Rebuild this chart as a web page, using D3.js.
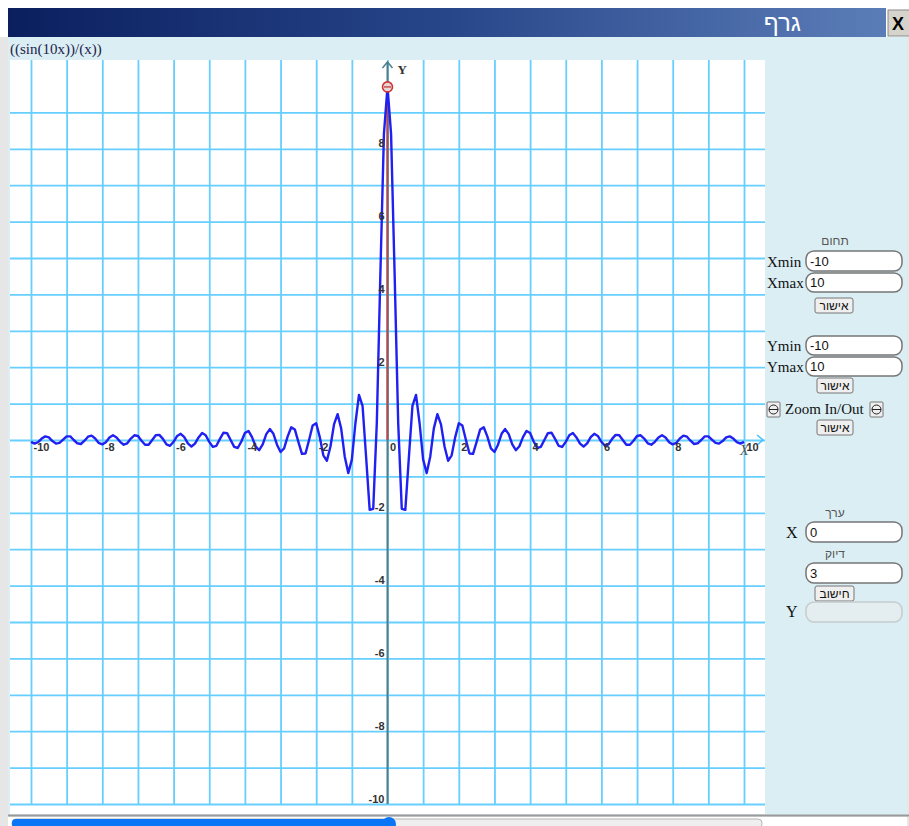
<!DOCTYPE html>
<html>
<head>
<meta charset="utf-8">
<script src="https://cdn.jsdelivr.net/npm/d3@7"></script>
<style>
  body { margin: 0; background: #fff; }
  svg { display: block; }
</style>
</head>
<body>
<svg id="chart" width="909" height="826"></svg>
<script>
// tick labels and grid
var xTickLabels = [-10, -8, -6, -4, -2, 0, 2, 4, 6, 8, 10];
var yTickLabels = [-10, -8, -6, -4, -2, 2, 4, 6, 8];
var xGrid = [-10,-9,-8,-7,-6,-5,-4,-3,-2,-1,0,1,2,3,4,5,6,7,8,9,10];
var yGrid = [-10,-9,-8,-7,-6,-5,-4,-3,-2,-1,0,1,2,3,4,5,6,7,8,9];

// curve samples, x from -10 to 10 step 0.1
var curveY = [
 -0.05,-0.10,-0.06,0.04,0.10,0.07,-0.03,-0.10,-0.08,0.01,
 0.10,0.10,0.00,-0.09,-0.11,-0.02,0.09,0.12,0.04,-0.08,
 -0.12,-0.06,0.07,0.13,0.07,-0.05,-0.13,-0.09,0.04,0.13,
 0.11,-0.02,-0.13,-0.13,0.00,0.13,0.14,0.03,-0.12,-0.16,
 -0.05,0.11,0.17,0.08,-0.09,-0.18,-0.10,0.07,0.19,0.13,
 -0.05,-0.19,-0.16,0.03,0.20,0.19,0.00,-0.19,-0.22,-0.04,
 0.19,0.25,0.08,-0.17,-0.28,-0.12,0.16,0.30,0.17,-0.13,
 -0.33,-0.23,0.10,0.35,0.29,-0.05,-0.38,-0.37,0.00,0.40,
 0.46,0.08,-0.42,-0.57,-0.18,0.43,0.71,0.32,-0.45,-0.91,
 -0.54,0.46,1.24,0.94,-0.47,-1.92,-1.89,0.47,4.55,8.41,
 9.70,
 8.41,4.55,0.47,-1.89,-1.92,-0.47,0.94,1.24,0.46,-0.54,
 -0.91,-0.45,0.32,0.71,0.43,-0.18,-0.57,-0.42,0.08,0.46,
 0.40,0.00,-0.37,-0.38,-0.05,0.29,0.35,0.10,-0.23,-0.33,
 -0.13,0.17,0.30,0.16,-0.12,-0.28,-0.17,0.08,0.25,0.19,
 -0.04,-0.22,-0.19,0.00,0.19,0.20,0.03,-0.16,-0.19,-0.05,
 0.13,0.19,0.07,-0.10,-0.18,-0.09,0.08,0.17,0.11,-0.05,
 -0.16,-0.12,0.03,0.14,0.13,0.00,-0.13,-0.13,-0.02,0.11,
 0.13,0.04,-0.09,-0.13,-0.05,0.07,0.13,0.07,-0.06,-0.12,
 -0.08,0.04,0.12,0.09,-0.02,-0.11,-0.09,0.00,0.10,0.10,
 0.01,-0.08,-0.10,-0.03,0.07,0.10,0.04,-0.06,-0.10,-0.05
];
var curveX = d3.range(-100, 101).map(function(k){ return k / 10; });

var markX = 0, markY = 9.70;

var formula = "((sin(10x))/(x))";
var title = "גרף";

var svg = d3.select("#chart");
var serif = "'Liberation Serif', 'Times New Roman', serif";
var sans = "'Liberation Sans', Arial, sans-serif";

// window frame
svg.append("rect").attr("x", 0).attr("y", 0).attr("width", 909).attr("height", 826).attr("fill", "#ffffff");
svg.append("rect").attr("x", 0).attr("y", 37).attr("width", 909).attr("height", 789).attr("fill", "#e6e6e6");
svg.append("rect").attr("x", 8).attr("y", 37).attr("width", 899).attr("height", 778).attr("fill", "#dbeef4");

var grad = svg.append("defs").append("linearGradient").attr("id", "bar");
grad.append("stop").attr("offset", "0%").attr("stop-color", "#0b1f5e");
grad.append("stop").attr("offset", "50%").attr("stop-color", "#27468a");
grad.append("stop").attr("offset", "100%").attr("stop-color", "#5b7db7");
svg.append("rect").attr("x", 8).attr("y", 8).attr("width", 878).attr("height", 29).attr("fill", "url(#bar)");
svg.append("text").attr("x", 801).attr("y", 31).attr("text-anchor", "end")
	.attr("fill", "#fff").style("font-family", sans).style("font-size", "24px").text(title);

// close button
svg.append("rect").attr("x", 888).attr("y", 10).attr("width", 22).attr("height", 26)
	.attr("fill", "#d6d3cc").attr("stroke", "#8a8a8a");
svg.append("text").attr("x", 898).attr("y", 30).attr("text-anchor", "middle")
	.style("font-family", sans).style("font-size", "18px").style("font-weight", "bold").text("X");

svg.append("text").attr("x", 10).attr("y", 54).attr("fill", "#23234a")
	.style("font-family", serif).style("font-size", "15px").text(formula);

// plot area
var pLeft = 10, pRight = 765, pTop = 60, pBottom = 814;
svg.append("rect").attr("x", pLeft).attr("y", pTop).attr("width", pRight - pLeft).attr("height", pBottom - pTop).attr("fill", "#fff");

var xScale = d3.scaleLinear().domain([-10, 10]).range([31, 744]);
var yScale = d3.scaleLinear().domain([-10, 10]).range([804, 76]);

var plot = svg.append("g");

// grid
var gx = plot.append("g").attr("transform", "translate(0," + yScale(-10) + ")")
	.call(d3.axisBottom(xScale).tickValues(xGrid).tickSize(-(yScale(-10) - pTop)).tickFormat(""));
var gy = plot.append("g").attr("transform", "translate(" + pLeft + ",0)")
	.call(d3.axisLeft(yScale).tickValues(yGrid).tickSize(-(pRight - pLeft)).tickFormat(""));
[gx, gy].forEach(function(g){
	g.select(".domain").remove();
	g.selectAll("line").attr("stroke", "#66cfff").attr("stroke-width", 1.8);
});

// x axis arrow
var x0 = xScale(0), y0 = yScale(0);
plot.append("path").attr("d", "M" + (pRight - 8) + "," + (y0 - 5) + "L" + (pRight - 2) + "," + y0 + "L" + (pRight - 8) + "," + (y0 + 5))
	.attr("fill", "none").attr("stroke", "#45c2ff").attr("stroke-width", 1.5);

// y axis
plot.append("line").attr("x1", x0).attr("x2", x0).attr("y1", yScale(-10)).attr("y2", 62)
	.attr("stroke", "#4d7f8c").attr("stroke-width", 2);
plot.append("path").attr("d", "M" + (x0 - 5) + ",68L" + x0 + ",62L" + (x0 + 5) + ",68")
	.attr("fill", "none").attr("stroke", "#4d7f8c").attr("stroke-width", 1.5);
plot.append("text").attr("x", x0 + 10).attr("y", 74).attr("fill", "#333")
	.style("font-family", serif).style("font-size", "13px").style("font-weight", "bold").text("Y");
plot.append("text").attr("x", 740).attr("y", 455).attr("fill", "#555")
	.style("font-family", serif).style("font-size", "14px").style("font-style", "italic").text("X");

// value marker line (under the curve)
plot.append("line").attr("x1", xScale(markX)).attr("x2", xScale(markX)).attr("y1", y0).attr("y2", yScale(markY))
	.attr("stroke", "#b84848").attr("stroke-width", 2);

// curve
var line = d3.line()
	.x(function(d, i){ return xScale(curveX[i]); })
	.y(function(d){ return yScale(d); });
plot.append("path").datum(curveY).attr("d", line)
	.attr("fill", "none").attr("stroke", "#2020f2").attr("stroke-width", 2.4).attr("stroke-linejoin", "round");

// value marker point
plot.append("circle").attr("cx", xScale(markX)).attr("cy", yScale(markY)).attr("r", 5)
	.attr("fill", "#e9d6d6").attr("stroke", "#d03535").attr("stroke-width", 1.6);
plot.append("line").attr("x1", xScale(markX) - 3.5).attr("x2", xScale(markX) + 3.5)
	.attr("y1", yScale(markY)).attr("y2", yScale(markY)).attr("stroke", "#c03030").attr("stroke-width", 1.2);

// tick labels
var fmt = function(d){ return String(d); };
var ax = plot.append("g").attr("transform", "translate(0," + y0 + ")")
	.call(d3.axisBottom(xScale).tickValues(xTickLabels).tickSize(0).tickFormat(fmt));
ax.select(".domain").remove();
ax.selectAll("text").attr("x", 2).attr("y", 11).attr("dy", null).attr("text-anchor", "start");

var ay = plot.append("g").attr("transform", "translate(" + x0 + ",0)")
	.call(d3.axisLeft(yScale).tickValues(yTickLabels).tickSize(0).tickFormat(fmt));
ay.select(".domain").remove();
ay.selectAll("text").attr("x", -3).attr("y", -2).attr("dy", null).attr("text-anchor", "end");

[ax, ay].forEach(function(g){
	g.selectAll("text").attr("fill", "#333")
		.style("font-family", sans).style("font-size", "11px").style("font-weight", "bold");
});

// bottom slider
svg.append("line").attr("x1", 8).attr("x2", 909).attr("y1", 815.5).attr("y2", 815.5).attr("stroke", "#9a9a9a").attr("stroke-width", 2);
svg.append("rect").attr("x", 8).attr("y", 817).attr("width", 899).attr("height", 9).attr("fill", "#fff");
svg.append("rect").attr("x", 12).attr("y", 819).attr("width", 750).attr("height", 9).attr("rx", 4)
	.attr("fill", "#efefef").attr("stroke", "#b5b5b5");
svg.append("rect").attr("x", 12).attr("y", 819).attr("width", 380).attr("height", 9).attr("rx", 4).attr("fill", "#0a75f5");
svg.append("circle").attr("cx", 389).attr("cy", 824).attr("r", 7).attr("fill", "#0a75f5");

// side panel
var panel = svg.append("g");
function label(x, y, t, opts){
	opts = opts || {};
	return panel.append("text").attr("x", x).attr("y", y).text(t)
		.attr("text-anchor", opts.anchor || "start")
		.attr("fill", opts.fill || "#111")
		.style("font-family", opts.font || serif)
		.style("font-size", (opts.size || 15) + "px");
}
function input(y, h, val, disabled){
	panel.append("rect").attr("x", 806).attr("y", y).attr("width", 96).attr("height", h).attr("rx", 8)
		.attr("fill", disabled ? "#e4edef" : "#fff")
		.attr("stroke", disabled ? "#c4cccd" : "#767676").attr("stroke-width", 1.5);
	if (val !== "") label(810, y + h - 5, val, {font: sans, size: 13});
}
function button(x, y, w, t){
	panel.append("rect").attr("x", x).attr("y", y).attr("width", w).attr("height", 15).attr("rx", 2)
		.attr("fill", "#efefef").attr("stroke", "#767676");
	label(x + w / 2, y + 12, t, {anchor: "middle", font: sans, size: 12});
}
function zoomBtn(x){
	panel.append("rect").attr("x", x).attr("y", 402).attr("width", 13).attr("height", 15).attr("rx", 1)
		.attr("fill", "#efefef").attr("stroke", "#767676");
	panel.append("circle").attr("cx", x + 6.5).attr("cy", 409.5).attr("r", 4.5).attr("fill", "none").attr("stroke", "#222");
	panel.append("line").attr("x1", x + 2).attr("x2", x + 11).attr("y1", 409.5).attr("y2", 409.5).attr("stroke", "#222");
}

label(835, 245, "תחום", {anchor: "middle", font: sans, size: 12, fill: "#555"});
label(767, 267, "Xmin"); input(251, 20, "-10");
label(767, 288, "Xmax"); input(273, 19, "10");
button(815, 298, 38, "אישור");
label(767, 351, "Ymin"); input(336, 19, "-10");
label(767, 372, "Ymax"); input(357, 19, "10");
button(817, 378, 36, "אישור");
zoomBtn(767);
label(785, 414, "Zoom In/Out");
zoomBtn(870);
button(817, 420, 36, "אישור");
label(835, 517, "ערך", {anchor: "middle", font: sans, size: 12, fill: "#555"});
label(786, 538, "X", {size: 16});
input(522, 20, "0");
label(835, 558, "דיוק", {anchor: "middle", font: sans, size: 12, fill: "#555"});
input(563, 20, "3");
button(815, 586, 39, "חישוב");
label(786, 617, "Y", {size: 16});
input(602, 20, "", true);
</script>
</body>
</html>
